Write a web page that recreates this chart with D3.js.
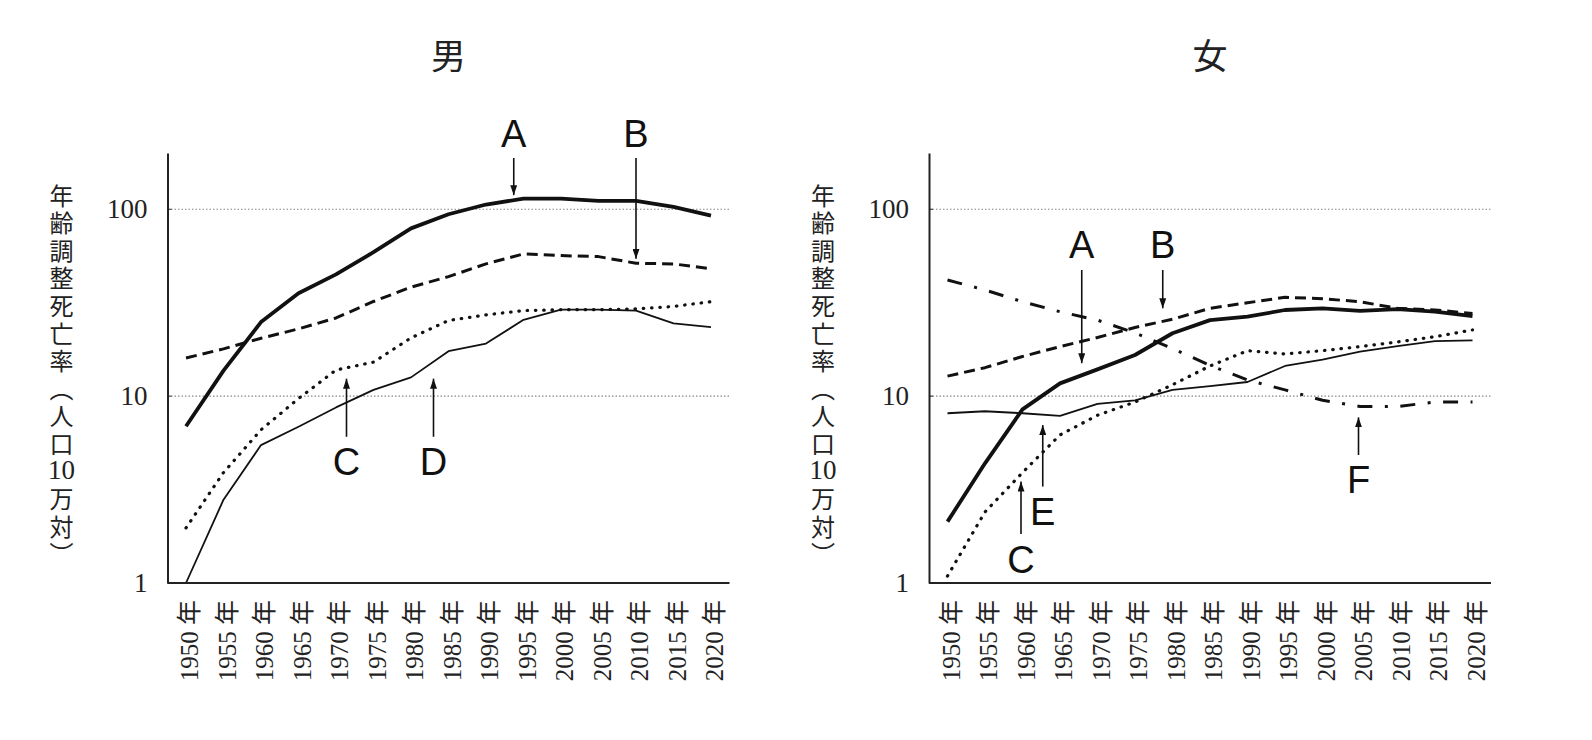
<!DOCTYPE html>
<html lang="ja">
<head>
<meta charset="utf-8">
<title>年齢調整死亡率</title>
<script src="https://cdn.jsdelivr.net/npm/d3@7"></script>
<style>
  body { margin: 0; background: #fff; }
</style>
</head>
<body>
<div id="chart"></div>
<script>
// 1. Data (per 100,000, log scale)
var years = [1950, 1955, 1960, 1965, 1970, 1975, 1980, 1985, 1990, 1995, 2000, 2005, 2010, 2015, 2020];
var yTicks = [1, 10, 100];
var panelTitles = ["男", "女"];

var maleA = [6.9, 13.7, 24.9, 35.5, 44.8, 58.9, 79, 94, 106, 114, 114, 111, 111, 103, 92.5];
var maleB = [16.0, 17.9, 20.4, 22.9, 26.2, 32.1, 38.3, 43.6, 51.0, 57.7, 56.5, 55.8, 51.4, 51.0, 48.0];
var maleC = [1.97, 3.9, 6.6, 9.7, 13.8, 15.2, 20.5, 25.4, 27.2, 28.7, 29.0, 29.0, 29.3, 30.2, 32.0];
var maleD = [1.0, 2.79, 5.47, 6.86, 8.7, 10.8, 12.6, 17.4, 19.1, 25.6, 29.0, 29.0, 28.7, 24.5, 23.4];

var femaleA = [2.13, 4.37, 8.5, 11.7, 13.9, 16.6, 21.7, 25.5, 26.6, 28.9, 29.5, 28.6, 29.2, 28.3, 26.8];
var femaleB = [12.8, 14.2, 16.3, 18.4, 20.6, 23.3, 25.8, 29.5, 31.6, 33.8, 33.2, 32.0, 29.5, 28.9, 27.7];
var femaleC = [1.09, 2.4, 3.9, 6.2, 7.9, 9.3, 11.5, 14.5, 17.5, 16.8, 17.5, 18.4, 19.5, 20.8, 22.6];
var femaleE = [8.1, 8.3, 8.1, 7.85, 9.1, 9.5, 10.8, 11.3, 11.9, 14.5, 15.7, 17.3, 18.5, 19.7, 19.9];
var femaleF = [41.8, 37.0, 32.0, 28.3, 25.5, 21.8, 18.0, 14.6, 12.2, 10.8, 9.5, 8.8, 8.8, 9.3, 9.3];

// annotation arrows: year, arrow tip / tail value, letter position value
var maleNotes = [
  {label: "A", year: 1993.7, tip: 119, tail: 188, text: 253},
  {label: "B", year: 2010.0, tip: 54.3, tail: 188, text: 253},
  {label: "C", year: 1971.4, tip: 12.4, tail: 6.06, text: 4.46},
  {label: "D", year: 1983.0, tip: 12.4, tail: 6.06, text: 4.46}
];
var femaleNotes = [
  {label: "A", year: 1967.9, tip: 15.0, tail: 47.3, text: 64.4},
  {label: "B", year: 1978.7, tip: 29.5, tail: 47.3, text: 64.4},
  {label: "C", year: 1959.8, tip: 3.49, tail: 1.83, text: 1.33},
  {label: "E", year: 1962.7, tip: 7.0, tail: 3.28, text: 2.41},
  {label: "F", year: 2004.8, tip: 7.7, tail: 4.84, text: 3.56}
];

var yLabelChars = ["年", "齢", "調", "整", "死", "亡", "率", "︵", "人", "口", "10", "万", "対", "︶"];

// 2. Line styles
var styles = {
  thick:   {w: 3.8, dash: null},
  dashed:  {w: 3.0, dash: "11,6"},
  dotted:  {w: 3.2, dash: "0.5,7.8", cap: "round"},
  thin:    {w: 1.8, dash: null},
  dashdot: {w: 3.0, dash: "15,12.5,3,12.5"}
};

var panels = [
  {title: panelTitles[0], left: 167.5, notes: maleNotes,
   series: [[maleB, "dashed"], [maleC, "dotted"], [maleD, "thin"], [maleA, "thick"]]},
  {title: panelTitles[1], left: 929, notes: femaleNotes,
   series: [[femaleF, "dashdot"], [femaleC, "dotted"], [femaleE, "thin"], [femaleB, "dashed"], [femaleA, "thick"]]}
];

// 3. SVG and scales
var W = 1592, H = 740;
var plotW = 562, plotTop = 153, plotBottom = 583;
var serif = "'Liberation Serif', 'DejaVu Serif', serif";
var cjk = "'Noto Sans CJK JP', sans-serif";

var svg = d3.select("#chart").append("svg")
  .attr("width", W).attr("height", H)
  .style("display", "block");

svg.append("defs").append("marker")
  .attr("id", "arrow")
  .attr("markerUnits", "userSpaceOnUse")
  .attr("viewBox", "0 0 10 7")
  .attr("refX", 10).attr("refY", 3.5)
  .attr("markerWidth", 10).attr("markerHeight", 7)
  .attr("orient", "auto")
  .append("path")
  .attr("d", "M0,0L10,3.5L0,7Z")
  .attr("fill", "#111");

var yScale = d3.scaleLog().domain([1, 200]).range([plotBottom, plotTop]);
var xScale = d3.scaleLinear().domain([1950, 2020]).range([18.5, 543.5]);

panels.forEach(function(p) {
  var g = svg.append("g").attr("transform", "translate(" + p.left + ",0)");

  // title
  g.append("text")
    .attr("x", plotW / 2).attr("y", 53)
    .attr("text-anchor", "middle").attr("dominant-baseline", "central")
    .style("font-family", cjk).style("font-size", "35px").style("fill", "#222")
    .text(p.title);

  // dotted gridlines at 10 and 100
  g.selectAll("line.grid")
    .data(yTicks.slice(1))
    .enter().append("line")
    .attr("class", "grid")
    .attr("x1", 0).attr("x2", plotW)
    .attr("y1", function(d) { return yScale(d); })
    .attr("y2", function(d) { return yScale(d); })
    .attr("stroke", "#888").attr("stroke-width", 1.2)
    .attr("stroke-dasharray", "1.5,2");

  // data lines
  var line = d3.line()
    .x(function(d, i) { return xScale(years[i]); })
    .y(function(d) { return yScale(d); });

  p.series.forEach(function(s) {
    var st = styles[s[1]];
    g.append("path")
      .datum(s[0])
      .attr("d", line)
      .attr("fill", "none")
      .attr("stroke", "#111")
      .attr("stroke-width", st.w)
      .attr("stroke-linecap", st.cap || "butt")
      .attr("stroke-linejoin", "round")
      .attr("stroke-dasharray", st.dash);
  });

  // annotations
  var notes = g.selectAll("g.note").data(p.notes).enter().append("g").attr("class", "note");
  notes.append("line")
    .attr("x1", function(d) { return xScale(d.year); })
    .attr("x2", function(d) { return xScale(d.year); })
    .attr("y1", function(d) { return yScale(d.tail); })
    .attr("y2", function(d) { return yScale(d.tip); })
    .attr("stroke", "#111").attr("stroke-width", 1.6)
    .attr("marker-end", "url(#arrow)");
  notes.append("text")
    .attr("x", function(d) { return xScale(d.year); })
    .attr("y", function(d) { return yScale(d.text); })
    .attr("text-anchor", "middle").attr("dominant-baseline", "central")
    .style("font-family", "'Liberation Sans', Arial, sans-serif")
    .style("font-size", "38px").style("fill", "#111")
    .text(function(d) { return d.label; });

  // axes
  var yAxis = d3.axisLeft(yScale).tickValues(yTicks).tickFormat(d3.format("d")).tickSize(0).tickPadding(20);
  var ya = g.append("g").call(yAxis);
  ya.select(".domain").attr("stroke", "#222").attr("stroke-width", 2);
  ya.selectAll("text").style("font-family", serif).style("font-size", "27px").style("fill", "#222");
  g.selectAll("line.ytick").data(yTicks.slice(1)).enter().append("line")
    .attr("x1", 0).attr("x2", 4)
    .attr("y1", function(d) { return yScale(d); })
    .attr("y2", function(d) { return yScale(d); })
    .attr("stroke", "#222").attr("stroke-width", 1);

  var xAxis = d3.axisBottom(xScale).tickValues(years).tickSize(0).tickFormat(function(d) { return d + " 年"; });
  var xa = g.append("g").attr("transform", "translate(0," + plotBottom + ")").call(xAxis);
  xa.select(".domain").attr("d", "M0,0H" + plotW).attr("stroke", "#222").attr("stroke-width", 2);
  xa.selectAll(".tick text")
    .attr("transform", "translate(3,17) rotate(-90)")
    .attr("x", 0).attr("y", 0).attr("dy", "0.35em")
    .attr("text-anchor", "end")
    .style("font-family", serif + ", " + cjk).style("font-size", "25px").style("fill", "#222");

  // vertical y label
  var yl = g.append("g").attr("transform", "translate(-106,0)");
  yl.selectAll("text")
    .data(yLabelChars)
    .enter().append("text")
    .attr("x", 0)
    .attr("y", function(d, i) { return 194 + i * 27.6; })
    .attr("text-anchor", "middle").attr("dominant-baseline", "central")
    .style("font-family", function(d) { return d === "10" ? serif : cjk; })
    .style("font-size", function(d) { return d === "10" ? "27px" : "24px"; })
    .style("fill", "#222")
    .text(function(d) { return d; });
});
</script>
</body>
</html>
